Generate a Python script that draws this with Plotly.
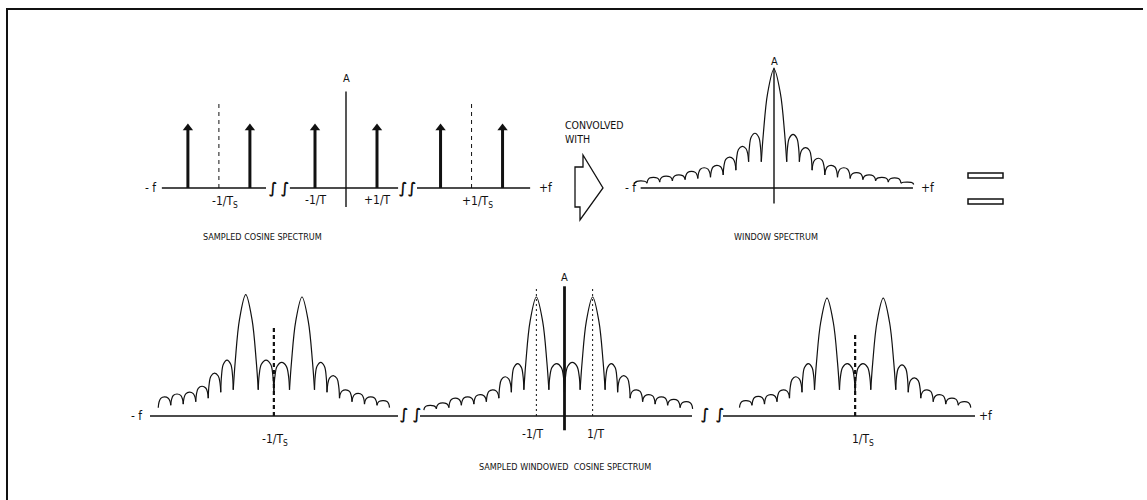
import plotly.graph_objects as go

W, H = 1147, 500

# ---- data ----
# top left: sampled cosine, x in units of 1/T
TL_GROUPS = [-4.1, 0.0, 4.05]          # -1/Ts, 0, +1/Ts
TL_IMPULSE_OFFSETS = [-1.0, 1.0]        # cosine lines at -1/T, +1/T
TL_IMPULSE_HEIGHT = 0.55                # relative to A
TL_DASH_HEIGHT = 0.71
TL_AXIS = [-0.16, 0.81]

# top right: window spectrum, x in bins
WIN_MAIN = 1.0
WIN_RIGHT_PEAKS = [0.45, 0.34, 0.25, 0.19, 0.17, 0.13, 0.11, 0.09, 0.085, 0.05]
WIN_LEFT_PEAKS = [0.46, 0.35, 0.26, 0.19, 0.17, 0.14, 0.11, 0.10, 0.09, 0.06]
WIN_CUSPS = [0.22, 0.22, 0.15, 0.11, 0.09, 0.08, 0.07, 0.06, 0.05, 0.04, 0.03]
WIN_AXIS = [-0.13, 1.01]

# bottom: sampled windowed cosine, x in bins
BOT_CENTERS = [-23.25, 0.0, 23.25]
COS_OFFSET = 2.25
BOT_MAIN_PEAKS = [[1.02, 1.0], [1.0, 1.0], [0.99, 0.99]]
BOT_INNER_PEAKS = [[0.47, 0.45], [0.44, 0.45], [0.44, 0.44]]
BOT_LEFT_OUTER = [[0.47, 0.36, 0.25, 0.20, 0.185, 0.16],
                  [0.44, 0.33, 0.22, 0.18, 0.16, 0.15, 0.11, 0.09],
                  [0.44, 0.33, 0.22, 0.18, 0.165, 0.13]]
BOT_RIGHT_OUTER = [[0.45, 0.34, 0.22, 0.19, 0.16, 0.13],
                   [0.44, 0.34, 0.22, 0.18, 0.16, 0.14, 0.12],
                   [0.43, 0.32, 0.22, 0.18, 0.15, 0.12]]
BOT_CUSPS = [0.22, 0.2, 0.15, 0.12, 0.1, 0.09, 0.07, 0.06, 0.05]
BOT_CENTER_CUSP = 0.2
BOT_MARK_HEIGHT = [0.74, 1.08, 0.70]     # dashed marker at -1/Ts, dotted at +-1/T, dashed at +1/Ts
BOT_AXIS = [-0.12, 1.09]

INK = "#111111"
FONT = "Liberation Sans Narrow, DejaVu Sans Condensed, Arial Narrow, sans-serif"

# arch outline used to draw one lobe (style only: fraction along the lobe, fraction of its rise)
SIDE_T = [0, 0.06, 0.2, 0.5, 0.8, 0.94, 1]
SIDE_F = [0, 0.5, 0.86, 1, 0.86, 0.5, 0]
MAIN_T = [0, 0.08, 0.25, 0.5, 0.75, 0.92, 1]
MAIN_F = [0, 0.3, 0.74, 1, 0.74, 0.3, 0]


def panel(box, x_org, x_px, y_org, y_px):
    # box in screen pixels -> axis domain/range so data units land where they should
    left, right, top, bottom = box
    xa = dict(domain=[left / W, right / W],
              range=[(left - x_org) / x_px, (right - x_org) / x_px])
    ya = dict(domain=[1 - bottom / H, 1 - top / H],
              range=[(y_org - bottom) / y_px, (y_org - top) / y_px])
    return xa, ya


def lobe(xs, ys, x0, x1, b0, b1, h, main=False):
    ts, fs = (MAIN_T, MAIN_F) if main else (SIDE_T, SIDE_F)
    for t, f in zip(ts, fs):
        base = b0 + (b1 - b0) * t
        xs.append(x0 + (x1 - x0) * t)
        ys.append(base + (h - base) * f)
    xs.append(None)
    ys.append(None)


fig = go.Figure()

ax_tl = panel((100, 565, 45, 250), 346, 31.0, 188, 119.0)
ax_tr = panel((615, 960, 40, 250), 774, 12.7, 188, 119.0)
ax_bt = panel((100, 1010, 255, 480), 564.5, 12.5, 416, 119.0)

line = dict(color=INK, width=1.4)
curve = dict(color=INK, width=1.2, shape="spline", smoothing=1.0)

# ---------------- top left ----------------
segs_x, segs_y = [], []
for a, b in [(-5.94, -2.58), (-1.81, 1.68), (2.29, 5.94)]:
    segs_x += [a, b, None]
    segs_y += [0, 0, None]
fig.add_trace(go.Scatter(x=segs_x, y=segs_y, mode="lines", line=line, xaxis="x", yaxis="y"))
fig.add_trace(go.Scatter(x=[0, 0], y=TL_AXIS, mode="lines", line=line, xaxis="x", yaxis="y"))

dx, dy = [], []
for g in (TL_GROUPS[0], TL_GROUPS[2]):
    dx += [g, g, None]
    dy += [0, TL_DASH_HEIGHT, None]
fig.add_trace(go.Scatter(x=dx, y=dy, mode="lines", line=dict(color=INK, width=1, dash="4px,4px"),
                         xaxis="x", yaxis="y"))

sx, sy, hx, hy = [], [], [], []
for g in TL_GROUPS:
    for o in TL_IMPULSE_OFFSETS:
        sx += [g + o, g + o, None]
        sy += [0, TL_IMPULSE_HEIGHT - 0.05, None]
        hx.append(g + o)
        hy.append(TL_IMPULSE_HEIGHT - 0.045)
fig.add_trace(go.Scatter(x=sx, y=sy, mode="lines", line=dict(color=INK, width=3), xaxis="x", yaxis="y"))
fig.add_trace(go.Scatter(x=hx, y=hy, mode="markers", xaxis="x", yaxis="y",
                         marker=dict(symbol="triangle-up", size=9, color=INK, line=dict(width=0))))

# ---------------- top right ----------------
fig.add_trace(go.Scatter(x=[-10.5, 10.94], y=[0, 0], mode="lines", line=line, xaxis="x2", yaxis="y2"))
fig.add_trace(go.Scatter(x=[0, 0], y=WIN_AXIS, mode="lines", line=line, xaxis="x2", yaxis="y2"))
wx, wy = [], []
lobe(wx, wy, -1, 1, WIN_CUSPS[0], WIN_CUSPS[0], WIN_MAIN, main=True)
for k, h in enumerate(WIN_RIGHT_PEAKS):
    lobe(wx, wy, k + 1, k + 2, WIN_CUSPS[k], WIN_CUSPS[k + 1], h)
for k, h in enumerate(WIN_LEFT_PEAKS):
    lobe(wx, wy, -(k + 1), -(k + 2), WIN_CUSPS[k], WIN_CUSPS[k + 1], h)
fig.add_trace(go.Scatter(x=wx, y=wy, mode="lines", line=curve, xaxis="x2", yaxis="y2"))

# ---------------- bottom ----------------
bx, by = [], []
for a, b in [(-33.16, -13.32), (-11.56, 10.2), (12.68, 32.84)]:
    bx += [a, b, None]
    by += [0, 0, None]
fig.add_trace(go.Scatter(x=bx, y=by, mode="lines", line=line, xaxis="x3", yaxis="y3"))

lx, ly = [], []
for g, c in enumerate(BOT_CENTERS):
    d = COS_OFFSET
    mains = BOT_MAIN_PEAKS[g]
    inner = BOT_INNER_PEAKS[g]
    lobe(lx, ly, c - d - 1, c - d + 1, BOT_CUSPS[0], BOT_CUSPS[0], mains[0], main=True)
    lobe(lx, ly, c + d - 1, c + d + 1, BOT_CUSPS[0], BOT_CUSPS[0], mains[1], main=True)
    lobe(lx, ly, c - d + 1, c, BOT_CUSPS[0], BOT_CENTER_CUSP, inner[0])
    lobe(lx, ly, c, c + d - 1, BOT_CENTER_CUSP, BOT_CUSPS[0], inner[1])
    for k, h in enumerate(BOT_LEFT_OUTER[g]):
        lobe(lx, ly, c - d - 1 - k, c - d - 2 - k, BOT_CUSPS[k], BOT_CUSPS[k + 1], h)
    for k, h in enumerate(BOT_RIGHT_OUTER[g]):
        lobe(lx, ly, c + d + 1 + k, c + d + 2 + k, BOT_CUSPS[k], BOT_CUSPS[k + 1], h)
fig.add_trace(go.Scatter(x=lx, y=ly, mode="lines", line=curve, xaxis="x3", yaxis="y3"))

# dashed markers at +-1/Ts, dotted at +-1/T, solid axis at 0
mx, my = [], []
for g in (0, 2):
    mx += [BOT_CENTERS[g], BOT_CENTERS[g], None]
    my += [0, BOT_MARK_HEIGHT[g], None]
fig.add_trace(go.Scatter(x=mx, y=my, mode="lines", line=dict(color=INK, width=2.2, dash="4px,3px"),
                         xaxis="x3", yaxis="y3"))
ox, oy = [], []
for o in (-COS_OFFSET, COS_OFFSET):
    ox += [o, o, None]
    oy += [0, BOT_MARK_HEIGHT[1], None]
fig.add_trace(go.Scatter(x=ox, y=oy, mode="lines", line=dict(color=INK, width=1, dash="2px,3px"),
                         xaxis="x3", yaxis="y3"))
fig.add_trace(go.Scatter(x=[0, 0], y=BOT_AXIS, mode="lines", line=dict(color=INK, width=2.8),
                         xaxis="x3", yaxis="y3"))

# ---------------- text ----------------
ann = []


def label(text, x, y, ref, size=12, xanchor="center", yanchor="middle"):
    ann.append(dict(text=text, x=x, y=y, xref="x" + ref, yref="y" + ref, showarrow=False,
                    font=dict(family=FONT, size=size, color=INK), xanchor=xanchor, yanchor=yanchor))


TS = "T<sub>S</sub>"
label("- f", -6.3, 0.0, "")
label("+f", 6.45, 0.0, "")
label("A", 0, 0.92, "", size=11)
label("-1/" + TS, TL_GROUPS[0] + 0.2, -0.12, "")
label("-1/T", -1, -0.1, "")
label("+1/T", 1, -0.1, "")
label("+1/" + TS, TL_GROUPS[2] + 0.2, -0.12, "")
for xb in (-2.35, -1.97, 1.84, 2.13):
    label("<b>∫</b>", xb, 0.0, "", size=15)

label("- f", -10.6, 0.0, "2", xanchor="right")
label("+f", 12.1, 0.0, "2")
label("A", 0, 1.06, "2", size=11)

label("- f", -34.2, 0.0, "3")
label("+f", 33.7, 0.0, "3")
label("A", 0, 1.16, "3", size=11)
label("-1/" + TS, BOT_CENTERS[0] + 0.1, -0.2, "3")
label("-1/T", -COS_OFFSET - 0.3, -0.15, "3")
label("1/T", COS_OFFSET + 0.3, -0.15, "3")
label("1/" + TS, BOT_CENTERS[2] + 0.6, -0.2, "3")
for xb in (-12.84, -11.8, 11.24, 12.44):
    label("<b>∫</b>", xb, 0.02, "3", size=15)

for text, x, y in [("SAMPLED COSINE SPECTRUM", 262, 237), ("WINDOW SPECTRUM", 776, 237),
                   ("SAMPLED WINDOWED  COSINE SPECTRUM", 565, 467)]:
    ann.append(dict(text=text, x=x / W, y=1 - y / H, xref="paper", yref="paper", showarrow=False,
                    xanchor="center", yanchor="middle",
                    font=dict(family=FONT, size=9, color=INK)))
ann.append(dict(text="CONVOLVED<br>WITH", x=563 / W, y=1 - 132 / H, xref="paper", yref="paper",
                showarrow=False, align="left", xanchor="left", yanchor="middle",
                font=dict(family=FONT, size=10.5, color=INK)))


def p(x, y):
    return f"{x / W:.5f},{1 - y / H:.5f}"


shapes = [
    # frame
    dict(type="path", xref="paper", yref="paper", path=f"M{p(1143, 9)} L{p(7, 9)} L{p(7, 500)}",
         line=dict(color=INK, width=2)),
    # block arrow
    dict(type="path", xref="paper", yref="paper",
         path=f"M{p(583, 155)} L{p(583, 167)} L{p(575, 167)} L{p(575, 207)} L{p(580, 207)} "
              f"L{p(580, 220)} L{p(603, 188)} Z",
         line=dict(color=INK, width=1.3)),
    # equals sign
    dict(type="rect", xref="paper", yref="paper", x0=968 / W, x1=1003 / W, y0=1 - 178 / H, y1=1 - 173 / H,
         line=dict(color=INK, width=1.5)),
    dict(type="rect", xref="paper", yref="paper", x0=968 / W, x1=1003 / W, y0=1 - 204 / H, y1=1 - 199 / H,
         line=dict(color=INK, width=1.5)),
]

hidden = dict(visible=False, fixedrange=True)
fig.update_layout(
    width=W, height=H, autosize=False,
    margin=dict(l=0, r=0, t=0, b=0),
    paper_bgcolor="white", plot_bgcolor="white",
    showlegend=False,
    xaxis=dict(**ax_tl[0], anchor="y", **hidden), yaxis=dict(**ax_tl[1], anchor="x", **hidden),
    xaxis2=dict(**ax_tr[0], anchor="y2", **hidden), yaxis2=dict(**ax_tr[1], anchor="x2", **hidden),
    xaxis3=dict(**ax_bt[0], anchor="y3", **hidden), yaxis3=dict(**ax_bt[1], anchor="x3", **hidden),
    annotations=ann, shapes=shapes,
)
fig.update_traces(hoverinfo="skip")

fig.write_html("out.html", config={"displayModeBar": False},
               post_script="document.body.style.margin='0';document.body.style.padding='0';")
